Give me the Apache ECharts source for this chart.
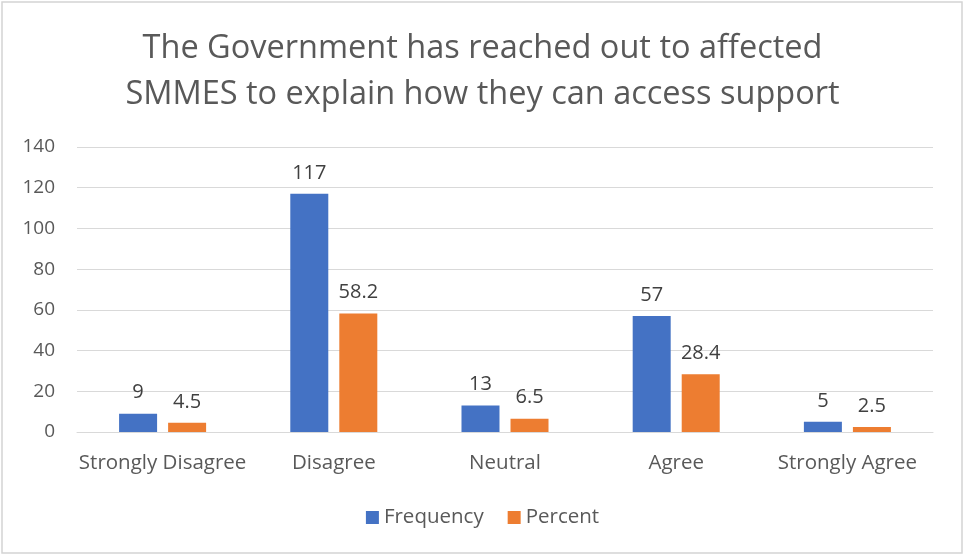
<!DOCTYPE html>
<html>
<head>
<meta charset="utf-8">
<script src="https://cdn.jsdelivr.net/npm/echarts@6/dist/echarts.min.js"></script>
<style>
  html, body { margin: 0; padding: 0; background: #fff; }
  #chart { width: 965px; height: 556px; }
</style>
</head>
<body>
<div id="chart"></div>
<script>
const titleText = 'The Government has reached out to affected\nSMMES to explain how they can access support';
const categories = ['Strongly Disagree', 'Disagree', 'Neutral', 'Agree', 'Strongly Agree'];
const frequency = [9, 117, 13, 57, 5];
const percent = [4.5, 58.2, 6.5, 28.4, 2.5];
const seriesNames = ['Frequency', 'Percent'];

const FONT = "'Open Sans', Lato, sans-serif";
const chart = echarts.init(document.getElementById('chart'), null, { renderer: 'canvas' });

const labelStyle = {
  show: true,
  position: 'top',
  distance: 11,
  color: '#404040',
  fontSize: 20,
  fontFamily: FONT
};

chart.setOption({
  backgroundColor: '#fff',
  animation: false,
  title: {
    text: titleText,
    left: 'center',
    top: 21,
    textStyle: {
      color: '#595959',
      fontSize: 32.5,
      fontWeight: 'normal',
      fontFamily: FONT,
      lineHeight: 46
    }
  },
  graphic: [{
    type: 'rect',
    shape: { x: 2, y: 2, width: 960, height: 551 },
    style: { fill: 'none', stroke: '#d4d4d4', lineWidth: 1.5 },
    silent: true
  }],
  legend: {
    top: 502,
    left: 'center',
    itemWidth: 13,
    itemHeight: 13,
    itemGap: 24,
    icon: 'rect',
    textStyle: { color: '#595959', fontSize: 20.5, fontFamily: FONT }
  },
  grid: { left: 77, right: 32, top: 147, bottom: 124 },
  xAxis: {
    type: 'category',
    data: categories,
    axisLine: { show: true, lineStyle: { color: '#d9d9d9', width: 1 } },
    axisTick: { show: false },
    axisLabel: { color: '#595959', fontSize: 20.5, fontFamily: FONT, margin: 21, interval: 0 }
  },
  yAxis: {
    type: 'value',
    min: 0,
    max: 140,
    interval: 20,
    axisLine: { show: false },
    axisTick: { show: false },
    splitLine: { lineStyle: { color: '#d9d9d9', width: 1 } },
    axisLabel: { color: '#595959', fontSize: 19, fontFamily: FONT, margin: 22 }
  },
  series: [
    {
      name: seriesNames[0],
      type: 'bar',
      data: frequency,
      barWidth: 38,
      barGap: '29%',
      itemStyle: { color: '#4472C4' },
      label: labelStyle
    },
    {
      name: seriesNames[1],
      type: 'bar',
      data: percent,
      barWidth: 38,
      itemStyle: { color: '#ED7D31' },
      label: labelStyle
    }
  ]
});
</script>
</body>
</html>
